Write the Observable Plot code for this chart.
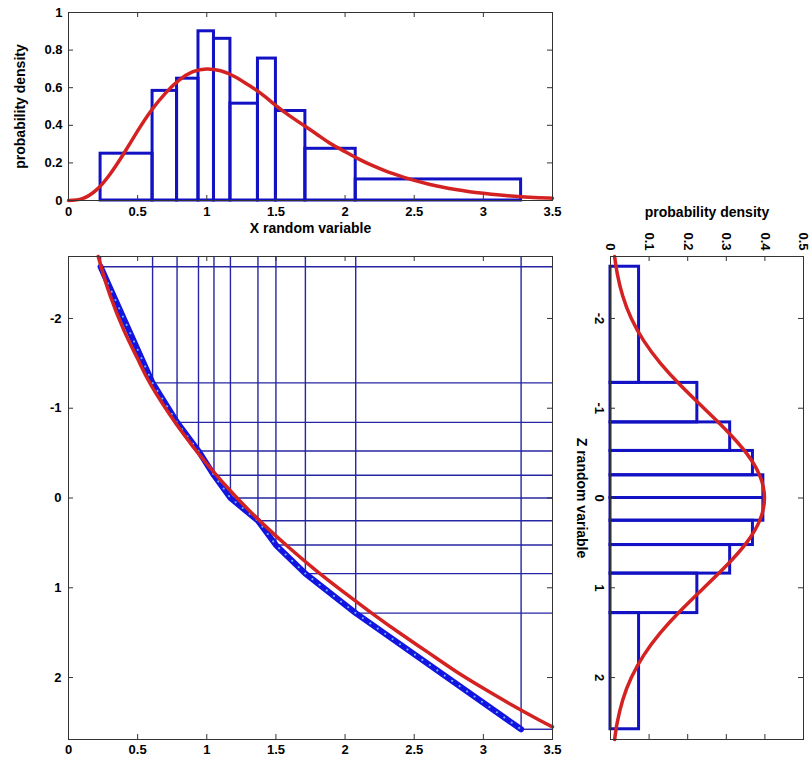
<!DOCTYPE html>
<html><head><meta charset="utf-8">
<script src="https://cdn.jsdelivr.net/npm/d3@7"></script>
<script src="https://cdn.jsdelivr.net/npm/@observablehq/plot@0.6"></script>
<style>
body{margin:0;background:#fff;}
#wrap{position:relative;width:810px;height:758px;overflow:hidden;background:#fff;}
#wrap svg{position:absolute;}
</style></head><body><div id="wrap"></div>
<script>
// ---- data ----
const xEdges = [0.232, 0.608, 0.785, 0.940, 1.052, 1.171, 1.370, 1.500, 1.713, 2.077, 3.273];
const xDensity = [0.249, 0.583, 0.648, 0.900, 0.860, 0.515, 0.755, 0.476, 0.275, 0.112];
const zEdges = [-2.576, -1.282, -0.842, -0.524, -0.253, 0, 0.253, 0.524, 0.842, 1.282, 2.576];
const zDensity = [0.074, 0.225, 0.310, 0.369, 0.396, 0.396, 0.369, 0.310, 0.225, 0.074];
const xPdfX = [0,0.1,0.2,0.3,0.4,0.5,0.6,0.7,0.8,0.9,1.0,1.1,1.2,1.3,1.4,1.5,1.6,1.7,1.8,1.9,2.0,2.1,2.2,2.3,2.4,2.5,2.6,2.7,2.8,2.9,3.0,3.1,3.2,3.3,3.4,3.5];
const xPdfY = [0,0.01,0.055,0.14,0.25,0.37,0.48,0.57,0.64,0.685,0.70,0.69,0.66,0.615,0.565,0.505,0.45,0.40,0.35,0.30,0.26,0.22,0.185,0.155,0.13,0.107,0.088,0.072,0.058,0.047,0.038,0.030,0.024,0.019,0.015,0.012];
const zPdfZ = [-2.69,-2.5,-2.25,-2,-1.75,-1.5,-1.25,-1,-0.75,-0.5,-0.25,0,0.25,0.5,0.75,1,1.25,1.5,1.75,2,2.25,2.5,2.69];
const zPdfY = [0.0107,0.0175,0.0317,0.054,0.0863,0.1295,0.1826,0.242,0.3011,0.3521,0.3867,0.3989,0.3867,0.3521,0.3011,0.242,0.1826,0.1295,0.0863,0.054,0.0317,0.0175,0.0107];
const mapX = [0.215,0.25,0.3,0.4,0.5,0.6,0.8,1.0,1.2,1.4,1.6,1.8,2.0,2.2,2.4,2.6,2.8,3.0,3.2,3.4,3.5];
const mapZ = [-2.69,-2.5,-2.26,-1.87,-1.55,-1.25,-0.78,-0.38,-0.03,0.28,0.56,0.82,1.06,1.29,1.51,1.72,1.93,2.12,2.30,2.47,2.55];
const xTicks = [0, 0.5, 1, 1.5, 2, 2.5, 3, 3.5];
const pTicksTop = [0, 0.2, 0.4, 0.6, 0.8, 1];
const zTicks = [-2, -1, 0, 1, 2];
const pTicksRight = [0, 0.1, 0.2, 0.3, 0.4, 0.5];
const xDomain = [0, 3.5];
const pDomainTop = [0, 1];
const zDomain = [-2.69, 2.69];
const pDomainRight = [0, 0.5];

// ---- derived tables ----
const xBins = xDensity.map((h, i) => ({x1: xEdges[i], x2: xEdges[i + 1], h}));
const zBins = zDensity.map((d, i) => ({z1: zEdges[i], z2: zEdges[i + 1], d}));
const nodes = xEdges.map((x, i) => ({x, z: zEdges[i]}));
const xPdf = xPdfX.map((x, i) => ({x, y: xPdfY[i]}));
const zPdf = zPdfZ.map((z, i) => ({z, p: zPdfY[i]}));
const mapCurve = mapX.map((x, i) => ({x, z: mapZ[i]}));

const BAR = "#1212c4", RED = "#d42222", GRID = "#2626a4", BLUE = "#1414e0", DOT = "#66b8ff", AX = "#333";
const style = {fontFamily: "'Liberation Sans', Arial, Helvetica, sans-serif", fontSize: "13px", fontWeight: "bold", color: "#000", background: "transparent", overflow: "visible"};
const fmt = d => String(d);
const LABEL = 14;

function boxTicks(xt, yt, iw, ih) {
  const L = 5;
  return [
    Plot.tickX(xt, {x: d => d, insetTop: ih - L, stroke: AX}),
    Plot.tickX(xt, {x: d => d, insetBottom: ih - L, stroke: AX}),
    Plot.tickY(yt, {y: d => d, insetRight: iw - L, stroke: AX}),
    Plot.tickY(yt, {y: d => d, insetLeft: iw - L, stroke: AX})
  ];
}
const labelOpts = {text: d => d, fontSize: LABEL, textAnchor: "middle", lineAnchor: "middle"};

const wrap = document.getElementById("wrap");

// ---- top panel: X histogram ----
const topPlot = Plot.plot({
  width: 570, height: 240, marginLeft: 68, marginRight: 18, marginTop: 12, marginBottom: 40,
  x: {domain: xDomain, label: null}, y: {domain: pDomainTop, label: null},
  style,
  marks: [
    Plot.rect(xBins, {x1: "x1", x2: "x2", y1: 0, y2: "h", fill: "none", stroke: BAR, strokeWidth: 3}),
    Plot.line(xPdf, {x: "x", y: "y", stroke: RED, strokeWidth: 3.5, curve: "natural"}),
    ...boxTicks(xTicks, pTicksTop, 484, 188),
    Plot.frame({stroke: AX}),
    Plot.axisX({ticks: xTicks, tickSize: 0, tickPadding: 6, tickFormat: fmt, label: null}),
    Plot.axisY({ticks: pTicksTop, tickSize: 0, tickPadding: 6, tickFormat: fmt, label: null}),
    Plot.text(["X random variable"], {...labelOpts, frameAnchor: "bottom", dy: 28}),
    Plot.text(["probability density"], {...labelOpts, frameAnchor: "left", dx: -48, rotate: -90})
  ]
});
topPlot.style.left = "0px"; topPlot.style.top = "0px";
wrap.appendChild(topPlot);

// ---- main panel: mapping X -> Z ----
const mainPlot = Plot.plot({
  width: 570, height: 518, marginLeft: 68, marginRight: 18, marginTop: 16, marginBottom: 19,
  x: {domain: xDomain, label: null}, y: {domain: zDomain, reverse: true, label: null},
  style,
  marks: [
    Plot.ruleX(nodes, {x: "x", y1: zDomain[0], y2: "z", stroke: GRID, strokeWidth: 1.4}),
    Plot.ruleY(nodes, {y: "z", x1: "x", x2: xDomain[1], stroke: GRID, strokeWidth: 1.4}),
    Plot.line(nodes, {x: "x", y: "z", stroke: BLUE, strokeWidth: 6, strokeLinejoin: "round", strokeLinecap: "round"}),
    Plot.line(nodes, {x: "x", y: "z", stroke: DOT, strokeWidth: 2, strokeDasharray: "0.1 9", strokeLinecap: "round"}),
    Plot.line(mapCurve, {x: "x", y: "z", stroke: RED, strokeWidth: 3.5, curve: "natural"}),
    ...boxTicks(xTicks, zTicks, 484, 483),
    Plot.frame({stroke: AX}),
    Plot.axisX({ticks: xTicks, tickSize: 0, tickPadding: 5, tickFormat: fmt, label: null}),
    Plot.axisY({ticks: zTicks, tickSize: 0, tickPadding: 7, tickFormat: fmt, label: null})
  ]
});
mainPlot.style.left = "0px"; mainPlot.style.top = "240px";
wrap.appendChild(mainPlot);

// ---- right panel: Z histogram (rotated) ----
const rightPlot = Plot.plot({
  width: 250, height: 568, marginLeft: 50, marginRight: 7, marginTop: 66, marginBottom: 19,
  x: {domain: pDomainRight, label: null}, y: {domain: zDomain, reverse: true, label: null},
  style,
  marks: [
    Plot.rect(zBins, {y1: "z1", y2: "z2", x1: 0, x2: "d", fill: "none", stroke: BAR, strokeWidth: 3}),
    Plot.line(zPdf, {x: "p", y: "z", stroke: RED, strokeWidth: 3.5, curve: "natural"}),
    ...boxTicks(pTicksRight, zTicks, 193, 483),
    Plot.frame({stroke: AX}),
    Plot.axisX({anchor: "top", ticks: pTicksRight, tickSize: 0, tickPadding: 6, tickRotate: 90, tickFormat: fmt, label: null}),
    Plot.axisY({ticks: zTicks, tickSize: 0, tickPadding: 6, tickRotate: 90, tickFormat: fmt, label: null}),
    Plot.text(["probability density"], {...labelOpts, frameAnchor: "top", dy: -44}),
    Plot.text(["Z random variable"], {...labelOpts, frameAnchor: "left", dx: -29, rotate: 90})
  ]
});
rightPlot.style.left = "560px"; rightPlot.style.top = "190px";
wrap.appendChild(rightPlot);
</script>
</body></html>
